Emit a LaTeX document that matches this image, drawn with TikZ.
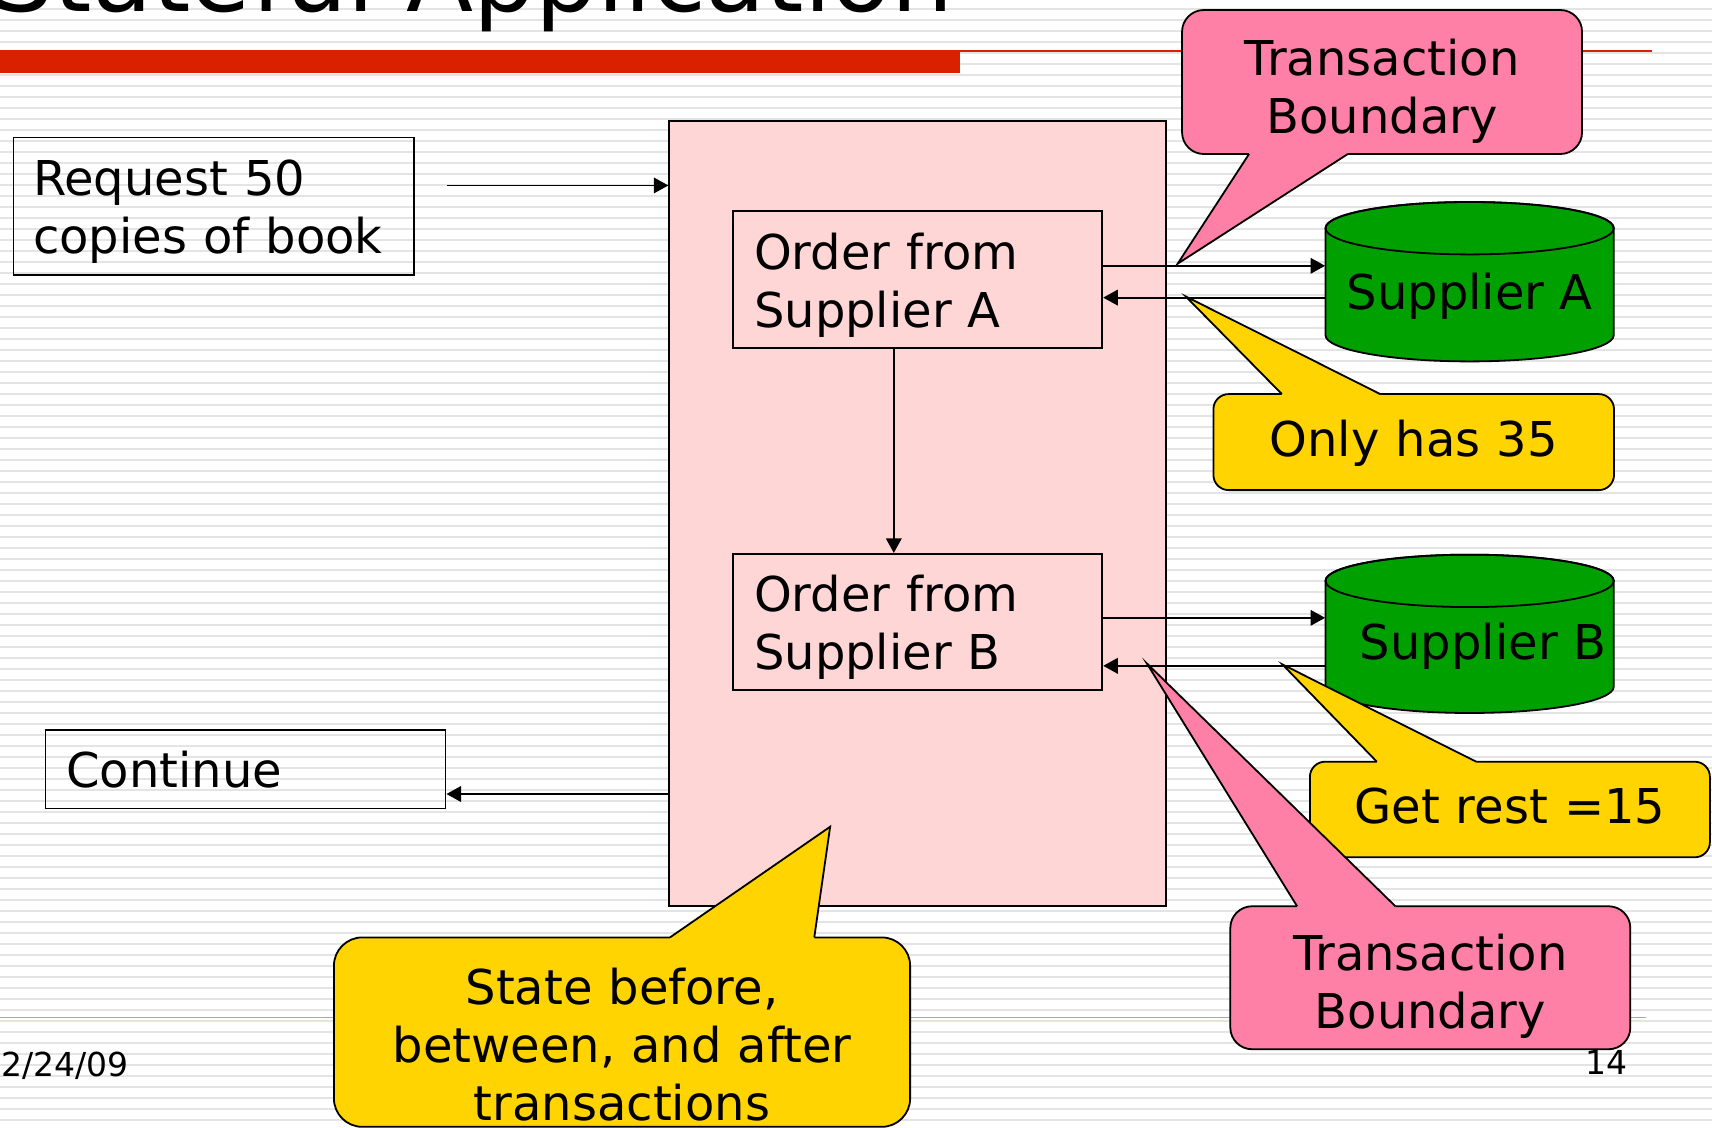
\documentclass[tikz,border=0pt]{standalone}
\usepackage{fontspec}
\setmainfont{DejaVu Sans}
\usepackage{tikz}
\usetikzlibrary{arrows.meta}

\definecolor{barred}{HTML}{D92100}
\definecolor{linered}{HTML}{E8907E}
\definecolor{stripegray}{HTML}{E4E4E4}
\definecolor{boxpink}{HTML}{FFD6D6}
\definecolor{notepink}{HTML}{FF80A6}
\definecolor{noteyellow}{HTML}{FFD400}
\definecolor{drumgreen}{HTML}{00A000}

\begin{document}
\begin{tikzpicture}[x=0.5459pt, y=-0.5459pt,
    every node/.style={font=\fontsize{24}{29}\selectfont},
    box/.style={draw, line width=0.9pt, inner xsep=10.4pt, inner ysep=0pt, align=left, text height=24pt},
    note/.style={draw, line width=0.9pt, inner xsep=5pt, inner ysep=0pt, align=center, text width=190pt, text height=24pt},
    arr/.style={-{Triangle[length=7.3pt, width=7.8pt]}, line width=0.9pt},
    tip/.style={line width=0.9pt}]
    \useasboundingbox (0,0) rectangle (1568,1033);

    % striped slide background
    \foreach \k in {0,...,102}
        \draw[stripegray, line width=1.4pt] (0,{(9+11*\k)/1.0918}) -- (1568,{(9+11*\k)/1.0918});

    % slide frame
    \node[anchor=base west, inner sep=0, font=\fontsize{49}{56}\selectfont] (title) at (-8,10.7) {Stateful Application};
    \fill[barred] (0,45.8) rectangle (879,67.2);
    \draw[barred, line width=1pt] (879,46.4) -- (1513,46.4);
    \draw[linered, line width=0.7pt] (0,931.8) -- (1507.6,931.8);
    \node[anchor=base west, inner sep=0, font=\fontsize{16.5}{20}\selectfont] (date) at (1,985.5) {2/24/09};
    \node[anchor=base east, inner sep=0, font=\fontsize{16.5}{20}\selectfont] (page) at (1491,984) {14};

    % application and its steps
    \node[box, fill=boxpink, minimum width=248.4pt, minimum height=392.5pt] (app) at (840.5,470.4) {};
    \node[box, minimum width=200.3pt, minimum height=68.8pt, inner xsep=9.8pt, text width=180.7pt, text depth=34.3pt] (req) at (195.9,188.9) {Request 50\\copies of book};
    \node[box, fill=boxpink, minimum width=184.5pt, minimum height=68.2pt, text width=163.7pt, text depth=34.4pt] (ordA) at (840.6,255.9) {Order from\\Supplier A};
    \node[box, fill=boxpink, minimum width=184.5pt, minimum height=68.2pt, text width=163.7pt, text depth=34.4pt] (ordB) at (840.6,569.7) {Order from\\Supplier B};
    \node[box, minimum width=200pt, minimum height=39.2pt, text width=179.2pt, text depth=6pt] (cont) at (224.9,704.5) {Continue};

    % suppliers
    \filldraw[fill=drumgreen, draw=black, line width=0.9pt] (1214,209) -- (1214,307) arc[start angle=180, end angle=0, x radius=132, y radius=24]
        -- (1478,209) arc[start angle=0, end angle=-180, x radius=132, y radius=24] -- cycle;
    \draw[line width=0.9pt] (1346,209) ellipse[x radius=132, y radius=24];
    \filldraw[fill=drumgreen, draw=black, line width=0.9pt] (1214,532) -- (1214,629) arc[start angle=180, end angle=0, x radius=132, y radius=24]
        -- (1478,532) arc[start angle=0, end angle=-180, x radius=132, y radius=24] -- cycle;
    \draw[line width=0.9pt] (1346,532) ellipse[x radius=132, y radius=24];
    \node[anchor=base, inner sep=0, minimum width=144.1pt] (supA) at (1346,283) {Supplier A};
    \node[anchor=base, inner sep=0, minimum width=144.1pt, text width=137pt, align=right] (supB) at (1346,604) {Supplier B};

    % flow
    \draw[arr] ([xshift=16.1pt, yshift=10.4pt]req.east) -- ([yshift=10.4pt]req.east -| app.west);
    \draw[arr] ([yshift=-12.4pt]cont.east -| app.west) -- ([yshift=-12.4pt]cont.east);
    \draw[arr] ([xshift=-12pt]ordA.south) -- ([xshift=-12pt]ordB.north);
    \draw[arr] ([yshift=6.8pt]ordA.east) -- ([yshift=6.8pt]ordA.east -| supA.west);
    \draw[arr] ([yshift=-9.1pt]ordA.east -| supA.west) -- ([yshift=-9.1pt]ordA.east);
    \draw[arr] ([yshift=2.1pt]ordB.east) -- ([yshift=2.1pt]ordB.east -| supB.west);
    \draw[arr] ([yshift=-21.9pt]ordB.east -| supB.west) -- ([yshift=-21.9pt]ordB.east);

    % callouts
    \node[note, fill=notepink, rounded corners=10.9pt, minimum width=200pt, minimum height=72pt, text depth=31pt] (tbTop) at (1265.8,75.1) {Transaction\\Boundary};
    \coordinate (tbTopTip) at (1078.6,241.5);
    \fill[notepink] (1144,135) -- (1144,141) -- (tbTopTip) -- (1234.5,141) -- (1234.5,135) -- cycle;
    \draw[tip] (1144,141) -- (tbTopTip) -- (1234.5,141);

    \node[note, fill=noteyellow, rounded corners=7.6pt, minimum width=200.3pt, minimum height=48pt, text depth=10pt] (onlyHas) at (1294.8,404.9) {Only has 35};
    \coordinate (onlyHasTip) at (1086,271.5);
    \fill[noteyellow] (1174,367) -- (1174,360.9) -- (onlyHasTip) -- (1264,360.9) -- (1264,367) -- cycle;
    \draw[tip] (1174,360.9) -- (onlyHasTip) -- (1264,360.9);

    \node[note, fill=noteyellow, rounded corners=7.6pt, minimum width=199.9pt, minimum height=47.8pt, text depth=10.2pt] (getRest) at (1382.9,741.4) {Get rest =15};
    \coordinate (getRestTip) at (1174.5,608.5);
    \fill[noteyellow] (1261,704) -- (1261,697.6) -- (getRestTip) -- (1352,697.6) -- (1352,704) -- cycle;
    \draw[tip] (1261,697.6) -- (getRestTip) -- (1352,697.6);

    \node[note, fill=notepink, rounded corners=10.9pt, minimum width=199.8pt, minimum height=71.5pt, text depth=31.1pt] (tbBot) at (1310,895.5) {Transaction\\Boundary};
    \coordinate (tbBotTip) at (1050.3,607.5);
    \fill[notepink] (1188,836) -- (1188,830) -- (tbBotTip) -- (1278,830) -- (1278,836) -- cycle;
    \draw[tip] (1188,830) -- (tbBotTip) -- (1278,830);

    \node[note, fill=noteyellow, rounded corners=14.2pt, minimum width=288.1pt, minimum height=94.7pt, text width=278pt, text depth=52pt] (state) at (569.7,945.3) {State before,\\between, and after\\transactions};
    \coordinate (stateTip) at (760.3,757.2);
    \fill[noteyellow] (613.7,865) -- (613.7,858.5) -- (stateTip) -- (745.8,858.5) -- (745.8,865) -- cycle;
    \draw[tip] (613.7,858.5) -- (stateTip) -- (745.8,858.5);
\end{tikzpicture}
\end{document}
